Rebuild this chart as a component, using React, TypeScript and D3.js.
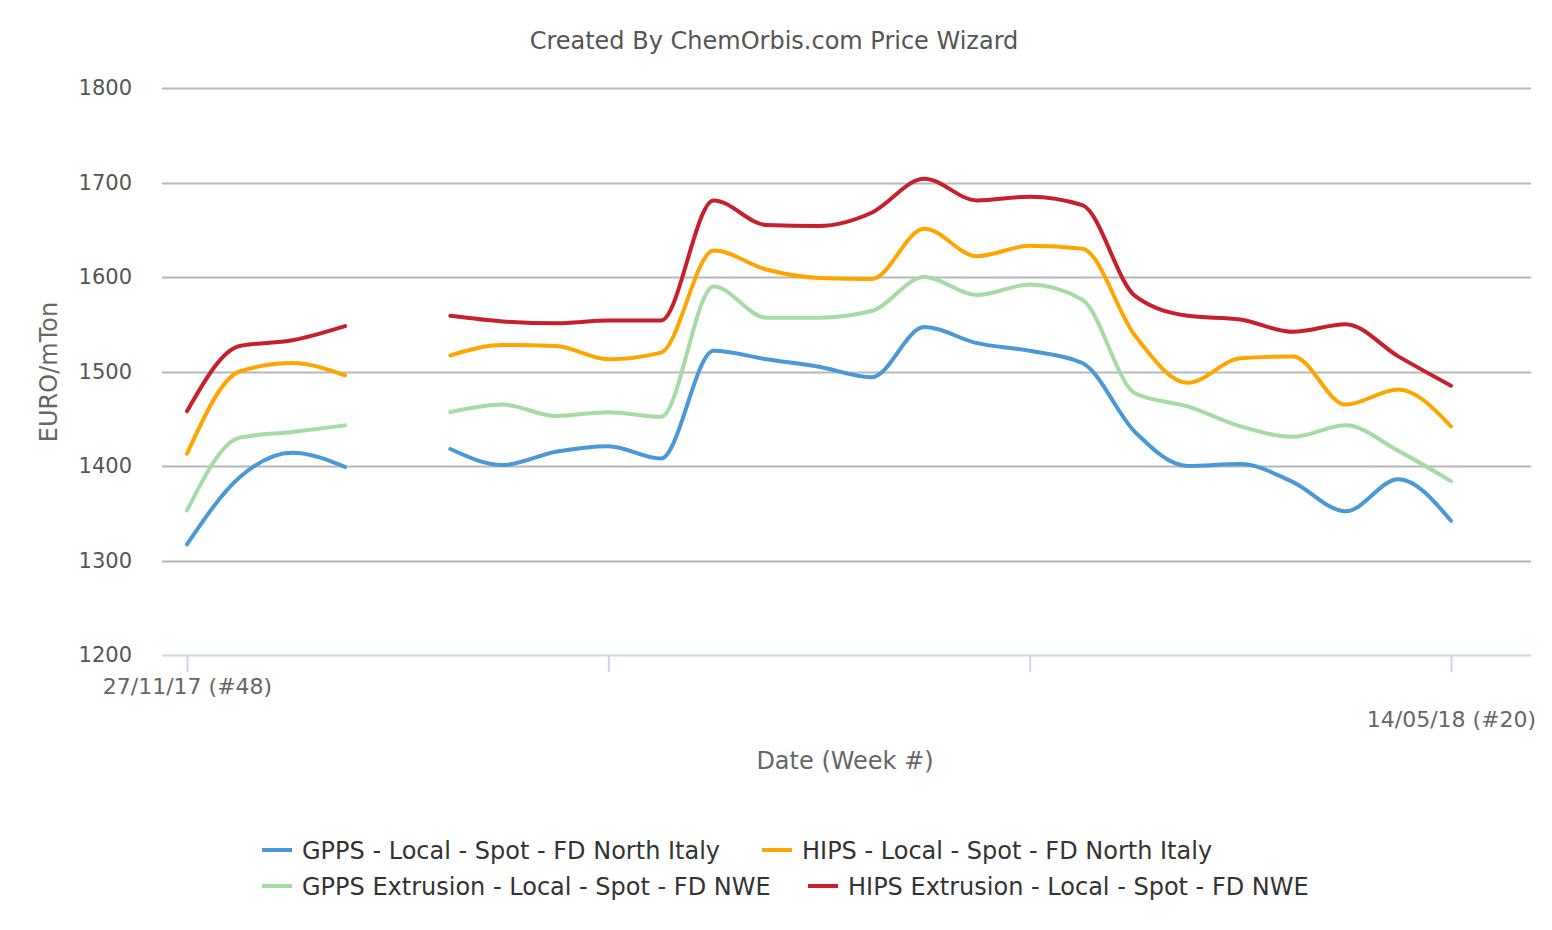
import { useEffect, useRef } from 'react';
import * as d3 from 'd3';

const WIDTH = 1552;
const HEIGHT = 930;
const FONT = '"DejaVu Sans", Verdana, sans-serif';

// weekly points, 27/11/17 (#48) .. 14/05/18 (#20); null = no quote
const weeks = d3.range(25);
const tickWeeks = [0, 8, 16, 24];
const tickLabels: Record<number, string> = { 0: '27/11/17 (#48)', 24: '14/05/18 (#20)' };
const yTicks = [1200, 1300, 1400, 1500, 1600, 1700, 1800];

const gppsItaly = [1317, 1388, 1414, 1399, null, 1418, 1401, 1415, 1421, 1408, 1522, 1513, 1505, 1494, 1547, 1530, 1522, 1509, 1436, 1400, 1402, 1383, 1352, 1386, 1342];
const hipsItaly = [1413, 1500, 1509, 1496, null, 1517, 1528, 1527, 1513, 1520, 1628, 1608, 1599, 1598, 1651, 1622, 1633, 1630, 1538, 1488, 1514, 1516, 1465, 1481, 1442];
const gppsNwe = [1353, 1430, 1436, 1443, null, 1457, 1465, 1453, 1457, 1452, 1590, 1557, 1557, 1564, 1600, 1581, 1592, 1576, 1477, 1463, 1442, 1431, 1443, 1416, 1384];
const hipsNwe = [1458, 1527, 1533, 1548, null, 1559, 1553, 1551, 1554, 1554, 1681, 1655, 1654, 1668, 1704, 1681, 1685, 1676, 1580, 1559, 1555, 1542, 1550, 1516, 1485];

const seriesNames = [
  'GPPS - Local - Spot - FD North Italy',
  'HIPS - Local - Spot - FD North Italy',
  'GPPS Extrusion - Local - Spot - FD NWE',
  'HIPS Extrusion - Local - Spot - FD NWE',
];
const seriesValues = [gppsItaly, hipsItaly, gppsNwe, hipsNwe];
const seriesColors = ['#4a98d6', '#ffa500', '#a6dba6', '#c8202a'];

// legend item layout (row-wrapped like the original)
const legendPos = [
  { x: 262, y: 850 },
  { x: 762, y: 850 },
  { x: 262, y: 886 },
  { x: 808, y: 886 },
];

export default function App() {
  const ref = useRef<SVGSVGElement>(null);

  useEffect(() => {
    const svg = d3.select(ref.current);
    if (!svg.node()) return;
    svg.selectAll('*').remove();

    const x = d3.scaleLinear().domain([0, 24]).range([187, 1451]);
    const y = d3.scaleLinear().domain([1200, 1800]).range([655, 88]);
    const plotLeft = 162;
    const plotRight = 1531;

    svg
      .append('text')
      .attr('x', 774)
      .attr('y', 49)
      .attr('text-anchor', 'middle')
      .attr('fill', '#555555')
      .attr('font-size', 24)
      .text('Created By ChemOrbis.com Price Wizard');

    // grid
    svg
      .append('g')
      .selectAll('line')
      .data(yTicks.filter((t) => t > 1200))
      .join('line')
      .attr('x1', plotLeft)
      .attr('x2', plotRight)
      .attr('y1', (d) => Math.round(y(d)) + 0.5)
      .attr('y2', (d) => Math.round(y(d)) + 0.5)
      .attr('stroke', '#b8b8b8')
      .attr('stroke-width', 2);

    // y axis labels
    svg
      .append('g')
      .attr('transform', `translate(${plotLeft},0)`)
      .call(d3.axisLeft(y).tickValues(yTicks).tickSize(0).tickPadding(30).tickFormat(d3.format('d')))
      .call((sel) => sel.select('.domain').remove())
      .call((sel) =>
        sel
          .selectAll('text')
          .attr('fill', '#555555')
          .attr('font-size', 21)
          .attr('font-family', FONT)
          .attr('dy', '0.32em'),
      );

    svg
      .append('text')
      .attr('transform', `translate(57,372) rotate(-90)`)
      .attr('text-anchor', 'middle')
      .attr('fill', '#666666')
      .attr('font-size', 24)
      .text('EURO/mTon');

    // x axis
    svg
      .append('g')
      .attr('transform', `translate(0,655)`)
      .call(
        d3
          .axisBottom(x)
          .tickValues(tickWeeks)
          .tickSize(17)
          .tickSizeOuter(0)
          .tickPadding(0)
          .tickFormat((d) => tickLabels[d as number] ?? ''),
      )
      .call((sel) =>
        sel.select('.domain').attr('d', `M${plotLeft},0.5H${plotRight}`).attr('stroke', '#ccd6eb').attr('stroke-width', 2),
      )
      .call((sel) => sel.selectAll('.tick line').attr('stroke', '#ccd6eb').attr('stroke-width', 2))
      .call((sel) =>
        sel
          .selectAll('.tick text')
          .attr('fill', '#666666')
          .attr('font-size', 22)
          .attr('font-family', FONT)
          .attr('dy', null)
          .attr('y', (d) => ((d as number) === 24 ? 72 : 39)),
      );

    svg
      .append('text')
      .attr('x', 845)
      .attr('y', 769)
      .attr('text-anchor', 'middle')
      .attr('fill', '#666666')
      .attr('font-size', 24)
      .text('Date (Week #)');

    const line = d3
      .line<number | null>()
      .defined((d) => d != null)
      .x((_, i) => x(weeks[i]))
      .y((d) => y(d as number))
      .curve(d3.curveMonotoneX);

    svg
      .append('g')
      .selectAll('path')
      .data(seriesValues)
      .join('path')
      .attr('d', (d) => line(d))
      .attr('fill', 'none')
      .attr('stroke', (_, i) => seriesColors[i])
      .attr('stroke-width', 4)
      .attr('stroke-linejoin', 'round')
      .attr('stroke-linecap', 'round');

    const legend = svg
      .append('g')
      .selectAll('g')
      .data(seriesNames)
      .join('g')
      .attr('transform', (_, i) => `translate(${legendPos[i].x},${legendPos[i].y})`);
    legend
      .append('line')
      .attr('x1', 0)
      .attr('x2', 30)
      .attr('stroke', (_, i) => seriesColors[i])
      .attr('stroke-width', 4);
    legend
      .append('text')
      .attr('x', 40)
      .attr('y', 9)
      .attr('fill', '#333333')
      .attr('font-size', 24)
      .text((d) => d);
  }, []);

  return (
    <svg
      ref={ref}
      width={WIDTH}
      height={HEIGHT}
      style={{ position: 'absolute', left: 0, top: 0, background: '#fff' }}
      fontFamily={FONT}
    />
  );
}
